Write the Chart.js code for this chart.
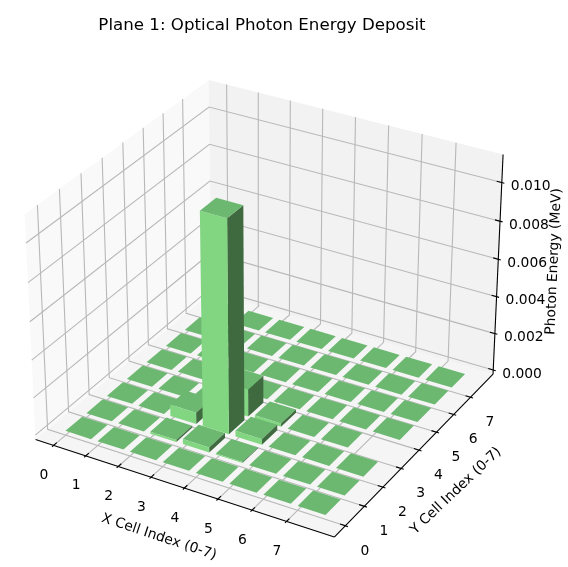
<!DOCTYPE html>
<html><head><meta charset="utf-8">
<style>html,body{margin:0;padding:0;background:#fff}#w{width:568px;height:567px}</style>
<script src="https://cdn.jsdelivr.net/npm/chart.js@4"></script></head>
<body><div id="w"><canvas id="c" width="568" height="567"></canvas></div>
<script>
const titleText = 'Plane 1: Optical Photon Energy Deposit';
const xLabelText = 'X Cell Index (0-7)';
const yLabelText = 'Y Cell Index (0-7)';
const zLabelText = 'Photon Energy (MeV)';
const xTicks = [0,1,2,3,4,5,6,7];
const yTicks = [0,1,2,3,4,5,6,7];
const zTicks = [0,0.002,0.004,0.006,0.008,0.010];
// energy per cell: row index = Y cell, column index = X cell; null = no bar
const energyY0 = [0,0,0,0,0,0,0,0];
const energyY1 = [0,0,0.0001,0.00027,0.00005,0,0,0];
const energyY2 = [0,0,0.00062,0.0112,0.0003,0,0,0];
const energyY3 = [0,0,0,0.00147,0.00018,0,0,null];
const energyY4 = [0,0,0,0,0,0,0,0];
const energyY5 = [0,0,0,0,0,0,0,0];
const energyY6 = [0,0,0,0,0,0,0,0];
const energyY7 = [0,0,0,0,0,0,0,0];
const energy = [energyY0,energyY1,energyY2,energyY3,energyY4,energyY5,energyY6,energyY7];
const barSize = 0.8;

// matplotlib-like 3D view
const xLim=[-0.39,8.19], yLim=[-0.39,8.19], zLim=[0,0.0112];
const box=[1.1429,1.1429,0.8571], dist=10;
const elev=30*Math.PI/180, azim=-60*Math.PI/180;
const W=[Math.cos(elev)*Math.cos(azim),Math.cos(elev)*Math.sin(azim),Math.sin(elev)];
const un=Math.hypot(W[1],W[0]);
const U=[-W[1]/un,W[0]/un,0];
const Vv=[W[1]*U[2]-W[2]*U[1],W[2]*U[0]-W[0]*U[2],W[0]*U[1]-W[1]*U[0]];
function proj(x,y,z){
  const r=[(x-xLim[0])/(xLim[1]-xLim[0])*box[0]-box[0]/2,
           (y-yLim[0])/(yLim[1]-yLim[0])*box[1]-box[1]/2,
           (z-zLim[0])/(zLim[1]-zLim[0])*box[2]-box[2]/2];
  const dot=(a)=>a[0]*r[0]+a[1]*r[1]+a[2]*r[2];
  const D=dist-dot(W);
  return {x:dot(U)/D,y:dot(Vv)/D,d:D};
}
const dx=(xLim[1]-xLim[0])/48, dy=(yLim[1]-yLim[0])/48, dz=(zLim[1]-zLim[0])/48;
const X0=xLim[0]-dx,X1=xLim[1]+dx,Y0=yLim[0]-dy,Y1=yLim[1]+dy,Z0=zLim[0]-dz,Z1=zLim[1]+dz;

// scale windows: chart area is 0..524 x 40..567
const S=2875, OX=268.5, OY=297.5, AR=524, AT=40, AB=567;
const datasets=[];
function poly(pts,color,width,fill){
  datasets.push({data:pts.map(p=>{const q=proj(p[0],p[1],p[2]);return {x:q.x,y:q.y};}),
    showLine:true,pointRadius:0,pointHitRadius:0,
    borderColor:color,backgroundColor:color,borderWidth:width,
    fill:fill?'shape':false,tension:0,clip:false});
}
// panes
poly([[X0,Y0,Z0],[X1,Y0,Z0],[X1,Y1,Z0],[X0,Y1,Z0]],'#f5f5f5',0,true);
poly([[X0,Y0,Z0],[X0,Y1,Z0],[X0,Y1,Z1],[X0,Y0,Z1]],'#f9f9f9',0,true);
poly([[X0,Y1,Z0],[X1,Y1,Z0],[X1,Y1,Z1],[X0,Y1,Z1]],'#f2f2f2',0,true);
// grid
const gridC='#b8b8b8', gw=1.1;
xTicks.forEach(v=>poly([[v,Y0,Z0],[v,Y1,Z0],[v,Y1,Z1]],gridC,gw,false));
yTicks.forEach(v=>poly([[X1,v,Z0],[X0,v,Z0],[X0,v,Z1]],gridC,gw,false));
zTicks.forEach(v=>poly([[X1,Y1,v],[X0,Y1,v],[X0,Y0,v]],gridC,gw,false));
// axis lines
poly([[X0,Y0,Z0],[X1,Y0,Z0]],'#000',1.1,false);
poly([[X1,Y0,Z0],[X1,Y1,Z0]],'#000',1.1,false);
poly([[X1,Y1,Z0],[X1,Y1,Z1]],'#000',1.1,false);
// ticks
const tdx=(X1-X0)/12, tdy=(Y1-Y0)/12;
xTicks.forEach(v=>poly([[v,Y0+0.2*tdy,Z0],[v,Y0-0.1*tdy,Z0]],'#000',1.1,false));
yTicks.forEach(v=>poly([[X1-0.2*tdx,v,Z0],[X1+0.1*tdx,v,Z0]],'#000',1.1,false));
zTicks.forEach(v=>poly([[X1-0.2*tdx,Y1,v],[X1+0.1*tdx,Y1,v]],'#000',1.1,false));
// bar faces, far to near
const faces=[];
energy.forEach((row,j)=>row.forEach((h,i)=>{
  if(h===null) return;
  const a=i,b=i+barSize,c=j,e=j+barSize;
  faces.push({p:[[a,c,h],[b,c,h],[b,e,h],[a,e,h]],col:'#6cb871'});
  if(h>0){
    faces.push({p:[[a,c,0],[b,c,0],[b,c,h],[a,c,h]],col:'#82d682'});
    faces.push({p:[[b,c,0],[b,e,0],[b,e,h],[b,c,h]],col:'#3f6a3f'});
  }
}));
faces.forEach(f=>{f.k=f.p.reduce((s,p)=>s+proj(p[0],p[1],p[2]).d,0)/f.p.length;});
faces.sort((m,n)=>n.k-m.k);
faces.forEach(f=>poly(f.p,f.col,0,true));
datasets.reverse();

const textPlugin={id:'labels3d',afterDraw(ch){
  const c=ch.ctx, sx=ch.scales.x, sy=ch.scales.y;
  const px=(x,y,z)=>{const q=proj(x,y,z);return [sx.getPixelForValue(q.x),sy.getPixelForValue(q.y)];};
  c.save();
  c.fillStyle='#000'; c.font='13.89px "DejaVu Sans"'; c.textBaseline='middle'; c.textAlign='center';
  xTicks.forEach(v=>{const p=px(v,Y0-0.1*tdy,Z0);c.fillText(String(v),p[0]-8,p[1]+28.5);});
  yTicks.forEach(v=>{const p=px(X1+0.1*tdx,v,Z0);c.fillText(String(v),p[0]+17,p[1]+24.5);});
  c.textAlign='left';
  zTicks.forEach(v=>{const p=px(X1+0.1*tdx,Y1,v);c.fillText(v.toFixed(3),p[0]+6.5,p[1]+3.5);});
  const rot=(t,x,y,a)=>{c.save();c.translate(x,y);c.rotate(a*Math.PI/180);c.textAlign='center';c.fillText(t,0,0);c.restore();};
  rot(xLabelText,159,537,18.4);
  rot(yLabelText,456,491,-43.5);
  rot(zLabelText,554,261.5,-87.4);
  c.restore();
}};
new Chart(document.getElementById('c'),{
  type:'scatter',
  data:{datasets},
  plugins:[textPlugin],
  options:{
    responsive:false,animation:false,events:[],
    layout:{padding:{left:0,top:0,bottom:0,right:568-AR}},
    scales:{
      x:{type:'linear',display:false,min:(0-OX)/S,max:(AR-OX)/S},
      y:{type:'linear',display:false,min:(OY-AB)/S,max:(OY-AT)/S}
    },
    plugins:{
      legend:{display:false},tooltip:{enabled:false},
      title:{display:true,text:titleText,fullSize:false,color:'#000',
        font:{family:'"DejaVu Sans"',size:16.67,weight:'normal',lineHeight:1.2},
        padding:{top:16,bottom:4}}
    }
  }
});
</script></body></html>
